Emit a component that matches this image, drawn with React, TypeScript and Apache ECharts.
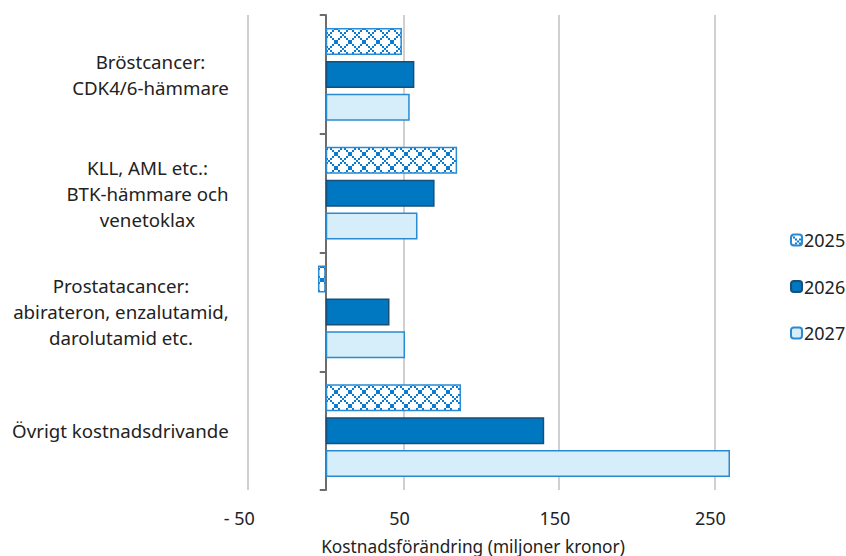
import React, { useEffect, useRef } from "react";
import * as echarts from "echarts";

const categories = [
  "Bröstcancer:\nCDK4/6-hämmare",
  "KLL, AML etc.:\nBTK-hämmare och\nvenetoklax",
  "Prostatacancer:\nabirateron, enzalutamid,\ndarolutamid etc.",
  "Övrigt kostnadsdrivande",
];
const seriesNames = ["2025", "2026", "2027"];
const values2025 = [49, 84.5, -5, 87];
const values2026 = [57, 70, 41, 140.5];
const values2027 = [54, 59, 51, 260];
const xTicks = [-50, 50, 150, 250];

function makePattern() {
  const size = 14;
  const c = document.createElement("canvas");
  c.width = size;
  c.height = size;
  const ctx = c.getContext("2d")!;
  ctx.fillStyle = "#ffffff";
  ctx.fillRect(0, 0, size, size);
  ctx.fillStyle = "#0a7bd0";
  for (let i = 0; i < size; i += 2) {
    ctx.fillRect(i, i, 2, 2);
    ctx.fillRect(size - 2 - i, i, 2, 2);
  }
  return { image: c, repeat: "repeat", imageWidth: size, imageHeight: size } as any;
}

export default function App() {
  const ref = useRef<HTMLDivElement>(null);
  useEffect(() => {
    const chart = echarts.init(ref.current!, null, { renderer: "svg" });
    const pattern = makePattern();
    const font = "'Noto Sans', 'Open Sans', sans-serif";
    const catFontSize = 18.7;
    const mc = document.createElement("canvas").getContext("2d")!;
    mc.font = catFontSize + "px 'Noto Sans'";
    const rich: any = {};
    categories.forEach((cat, i) => {
      const w = Math.ceil(Math.max(...cat.split("\n").map((l) => mc.measureText(l).width)));
      rich["c" + i] = {
        width: w,
        align: "center",
        fontSize: catFontSize,
        lineHeight: 26,
        color: "#222",
        fontFamily: font,
      };
    });
    chart.setOption({
      animation: false,
      grid: { left: 248, right: 116, top: 15, bottom: 66, containLabel: false, outerBoundsMode: "none" },
      xAxis: {
        type: "value",
        min: -50,
        max: 260,
        interval: 100,
        axisLine: { show: false },
        axisTick: { show: false },
        axisLabel: {
          showMaxLabel: false,
          margin: 19,
          fontSize: 18,
          color: "#222",
          fontFamily: font,
          padding: [0, 8, 0, 0],
          formatter: (v: number) =>
            xTicks.includes(v) ? (v < 0 ? "- " + Math.abs(v) + "  " : String(v)) : "",
        },
        splitLine: { show: true, showMaxLine: false, lineStyle: { color: "#d0d0d0", width: 2 } },
      },
      yAxis: {
        type: "category",
        inverse: true,
        data: categories,
        axisLine: { show: true, onZero: true, lineStyle: { color: "#6d6d6d", width: 2 } },
        axisTick: { show: true, length: 6, lineStyle: { color: "#6d6d6d", width: 2 } },
        axisLabel: {
          margin: 19,
          align: "right",
          formatter: (v: string) => {
            const i = categories.indexOf(v);
            return v
              .split("\n")
              .map((l) => "{c" + i + "|" + l + "}")
              .join("\n");
          },
          rich,
        },
      },
      legend: {
        orient: "vertical",
        left: 785,
        top: 226,
        itemWidth: 11,
        itemHeight: 11,
        itemGap: 28.5,
        textStyle: { fontSize: 18, color: "#222", fontFamily: font, padding: [0, 0, 0, -3] },
        data: seriesNames,
      },
      series: [
        {
          name: seriesNames[0],
          type: "bar",
          data: values2025,
          barWidth: 27,
          barGap: "22%",
          itemStyle: { color: pattern, borderColor: "#2a8ad4", borderWidth: 1.5 },
        },
        {
          name: seriesNames[1],
          type: "bar",
          data: values2026,
          barWidth: 27,
          barGap: "22%",
          itemStyle: { color: "#0078c1", borderColor: "#174f78", borderWidth: 1.5 },
        },
        {
          name: seriesNames[2],
          type: "bar",
          data: values2027,
          barWidth: 27,
          barGap: "22%",
          itemStyle: { color: "#d6eef9", borderColor: "#2a8ad0", borderWidth: 1.5 },
        },
      ],
      graphic: [
        {
          type: "text",
          x: 473,
          y: 546,
          style: {
            text: "Kostnadsförändring (miljoner kronor)",
            fontSize: 17.3,
            fill: "#222",
            fontFamily: font,
            textAlign: "center",
            textVerticalAlign: "middle",
          },
        },
      ],
    });
    return () => chart.dispose();
  }, []);
  return <div ref={ref} style={{ width: 846, height: 556, position: "absolute", left: 0, top: 0 }} />;
}
